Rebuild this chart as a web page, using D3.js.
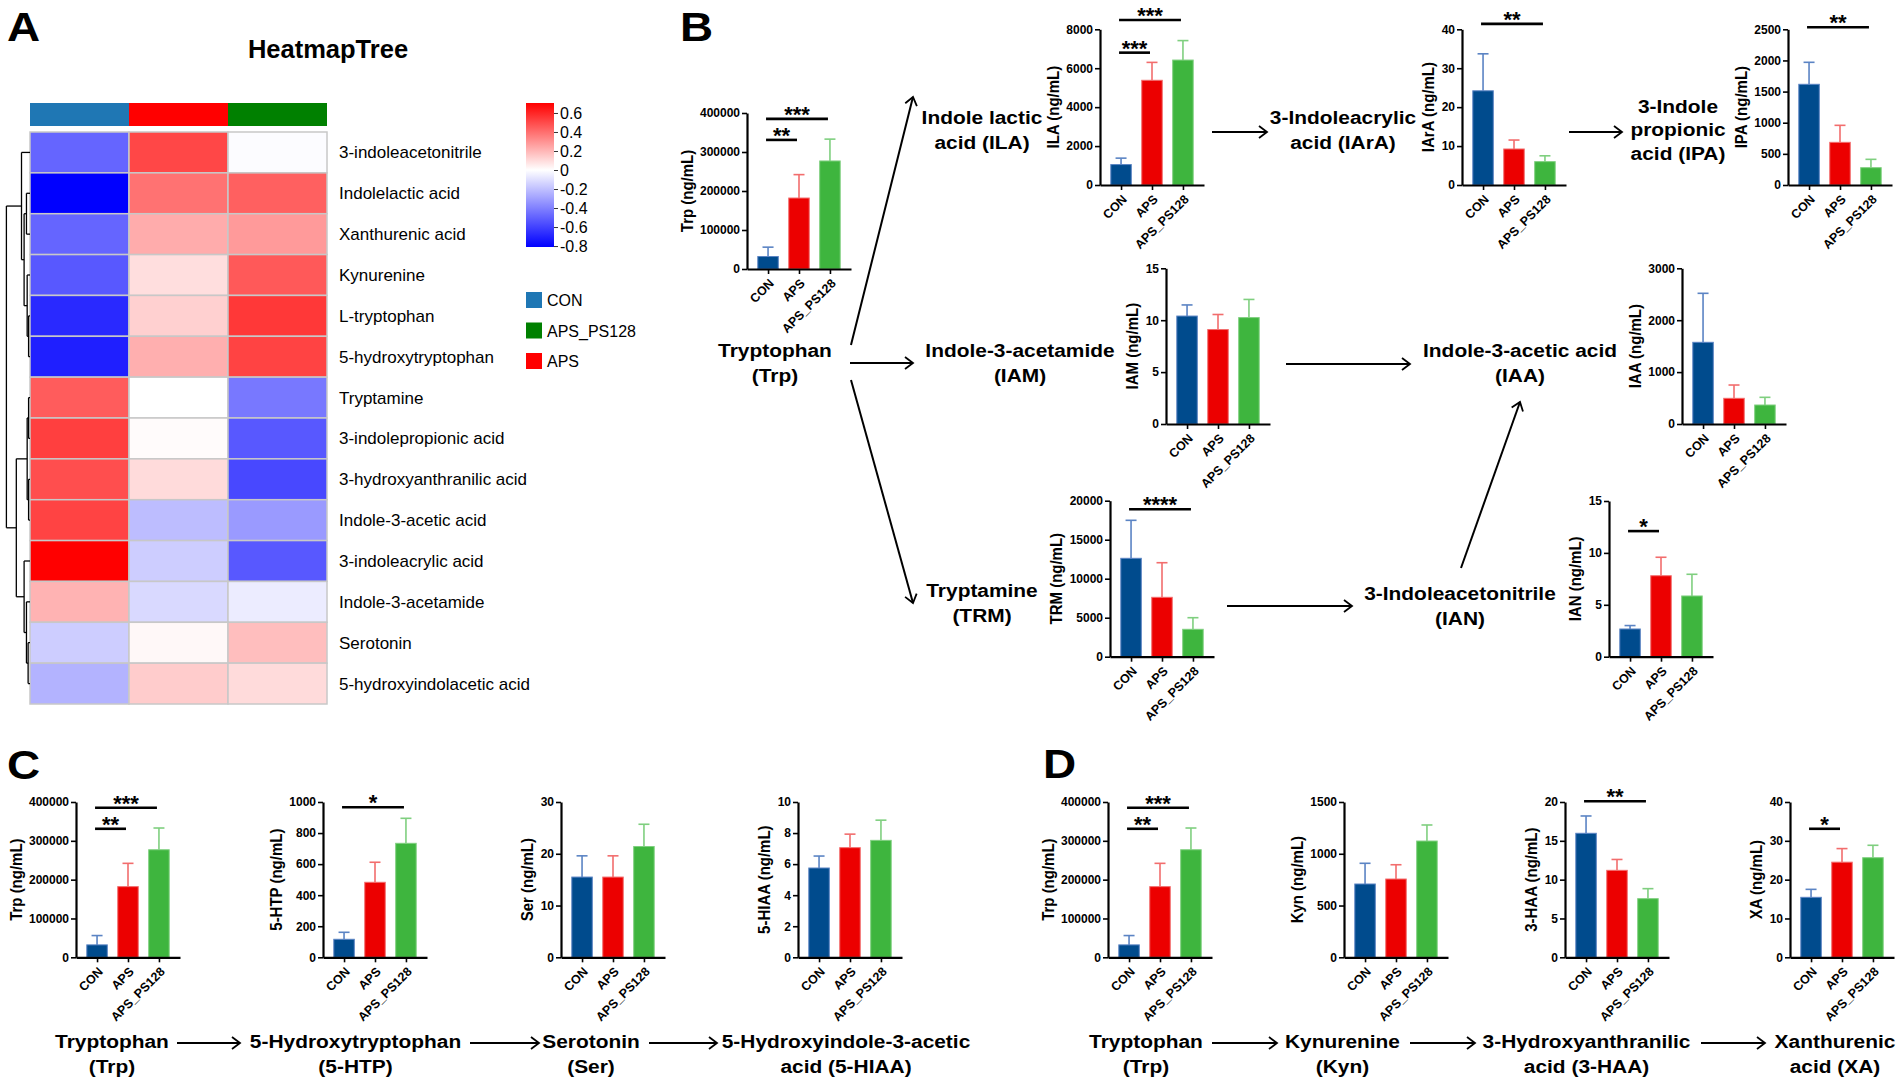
<!DOCTYPE html>
<html>
<head>
<meta charset="utf-8">
<script src="https://cdn.jsdelivr.net/npm/d3@7"></script>
<style>
  body { margin: 0; background: #fff; }
  text { font-family: "Liberation Sans", Arial, Helvetica, sans-serif; }
</style>
</head>
<body>
<svg id="fig" width="1902" height="1085"></svg>
<script>
// ---- data ----
var groups = ['CON', 'APS', 'APS_PS128'];
var barFill = ['#004b8d', '#ec0000', '#3eb53e'];
var errCol = ['#5b84c4', '#f26d6d', '#7fcf7f'];

// heatmap (z-scores)
var hmRows = ['3-indoleacetonitrile', 'Indolelactic acid', 'Xanthurenic acid', 'Kynurenine',
  'L-tryptophan', '5-hydroxytryptophan', 'Tryptamine', '3-indolepropionic acid',
  '3-hydroxyanthranilic acid', 'Indole-3-acetic acid', '3-indoleacrylic acid',
  'Indole-3-acetamide', 'Serotonin', '5-hydroxyindolacetic acid'];
var hmCon   = [-0.49, -0.81, -0.49, -0.53, -0.68, -0.71, 0.45, 0.53, 0.49, 0.52, 0.705, 0.21, -0.16, -0.24];
var hmAps   = [0.51, 0.39, 0.23, 0.09, 0.13, 0.22, 0.0, 0.01, 0.10, -0.21, -0.16, -0.12, 0.02, 0.14];
var hmPs128 = [-0.01, 0.44, 0.28, 0.46, 0.55, 0.52, -0.43, -0.53, -0.58, -0.32, -0.53, -0.06, 0.18, 0.10];
var annotCols = ['#1f77b4', '#ff0000', '#008000'];
var cbTicks = [0.6, 0.4, 0.2, 0, -0.2, -0.4, -0.6, -0.8];
var legendNames = ['CON', 'APS_PS128', 'APS'];
var legendCols = ['#1f77b4', '#008000', '#ff0000'];

// bar charts: means and SD (ng/mL)
var trpMean = [32000, 182000, 277000],  trpSd = [24000, 60000, 56000];
var ilaMean = [1050, 5380, 6420],       ilaSd = [330, 920, 1000];
var iaraMean = [24.2, 9.25, 6.0],       iaraSd = [9.5, 2.3, 1.5];
var ipaMean = [1617, 685, 278],         ipaSd = [353, 273, 134];
var iamMean = [10.4, 9.1, 10.25],       iamSd = [1.07, 1.45, 1.75];
var iaaMean = [1574, 495, 366],         iaaSd = [944, 256, 148];
var trmMean = [12615, 7615, 3513],      trmSd = [4870, 4435, 1487];
var ianMean = [2.67, 7.8, 5.85],        ianSd = [0.33, 1.78, 2.09];
var htpMean = [116, 483, 734],          htpSd = [45, 129, 161];
var serMean = [15.5, 15.5, 21.4],       serSd = [4.1, 4.1, 4.3];
var hiaaMean = [5.75, 7.06, 7.53],      hiaaSd = [0.77, 0.87, 1.3];
var kynMean = [708, 756, 1123],         kynSd = [200, 138, 155];
var haaMean = [15.97, 11.2, 7.55],      haaSd = [2.23, 1.4, 1.29];
var xaMean = [15.45, 24.5, 25.65],      xaSd = [2.05, 3.5, 3.2];

// significance bars: [from, to, stars, height in data units]
var trpSig = [[0, 1, '**', 331000], [0, 2, '***', 385000]];
var ilaSig = [[0, 1, '***', 6800], [0, 2, '***', 8480]];
var iaraSig = [[0, 2, '**', 41.4]];
var ipaSig = [[0, 2, '**', 2532]];
var trmSig = [[0, 2, '****', 18900]];
var ianSig = [[0, 1, '*', 12.1]];
var htpSig = [[0, 2, '*', 966]];
var haaSig = [[0, 2, '**', 20.1]];
var xaSig = [[0, 1, '*', 33.1]];

var svg = d3.select('#fig');

// ---- panel letters ----
[['A', 7, 41], ['B', 680, 41], ['C', 7, 779], ['D', 1043, 778]].forEach(function(p) {
  svg.append('text').attr('transform', 'translate(' + p[1] + ',' + p[2] + ') scale(1.12,1)')
    .style('font-size', '41px').style('font-weight', 'bold').text(p[0]);
});

// ---- A: heatmap ----
svg.append('text').attr('x', 328).attr('y', 58).attr('text-anchor', 'middle')
  .style('font-size', '25.5px').style('font-weight', 'bold').text('HeatmapTree');

var hx = d3.scaleBand().domain(groups).range([30, 327]);
var hy = d3.scaleBand().domain(hmRows).range([132, 704]);
var hcol = d3.scaleLinear().domain([-0.81, 0, 0.705]).range(['#0000ff', '#ffffff', '#ff0000']);
var hmVals = [hmCon, hmAps, hmPs128];

svg.selectAll('.annot').data(groups).enter().append('rect')
  .attr('x', function(d) { return hx(d); }).attr('y', 103)
  .attr('width', hx.bandwidth()).attr('height', 23)
  .attr('fill', function(d, i) { return annotCols[i]; });

var cells = [];
hmRows.forEach(function(r, i) {
  groups.forEach(function(g, j) { cells.push({row: r, col: g, v: hmVals[j][i]}); });
});
svg.selectAll('.cell').data(cells).enter().append('rect')
  .attr('x', function(d) { return hx(d.col); })
  .attr('y', function(d) { return hy(d.row); })
  .attr('width', hx.bandwidth()).attr('height', hy.bandwidth())
  .attr('fill', function(d) { return hcol(d.v); })
  .attr('stroke', '#c8c8c8').attr('stroke-width', 1.5);

svg.selectAll('.rowlab').data(hmRows).enter().append('text')
  .attr('x', 339).attr('y', function(d) { return hy(d) + hy.bandwidth() / 2 + 6; })
  .style('font-size', '17px').text(function(d) { return d; });

// dendrogram (rows), merge heights estimated
var dendro = {h: 1, c: [
  {h: 0.36, c: [0, {h: 0.25, c: [{h: 0.15, c: [1, 2]}, {h: 0.12, c: [3, {h: 0.06, c: [4, 5]}]}]}]},
  {h: 0.58, c: [
    {h: 0.12, c: [{h: 0.06, c: [6, 7]}, {h: 0.06, c: [8, 9]}]},
    {h: 0.25, c: [10, {h: 0.15, c: [11, {h: 0.08, c: [12, 13]}]}]}
  ]}
]};
var dx = d3.scaleLinear().domain([0, 1]).range([30, 6.4]);
var dg = svg.append('g').attr('stroke', '#000').attr('stroke-width', 1.3).attr('fill', 'none');
var drawNode = function(n) {
  if (typeof n === 'number') {
    return {x: dx(0), y: hy(hmRows[n]) + hy.bandwidth() / 2};
  }
  var kids = n.c.map(drawNode);
  var x = dx(n.h);
  kids.forEach(function(k) {
    dg.append('line').attr('x1', x).attr('x2', k.x).attr('y1', k.y).attr('y2', k.y);
  });
  dg.append('line').attr('x1', x).attr('x2', x).attr('y1', kids[0].y).attr('y2', kids[kids.length - 1].y);
  return {x: x, y: (kids[0].y + kids[kids.length - 1].y) / 2};
};
drawNode(dendro);

// colour bar
var grad = svg.append('defs').append('linearGradient').attr('id', 'cb')
  .attr('x1', 0).attr('y1', 1).attr('x2', 0).attr('y2', 0);
hcol.domain().forEach(function(v) {
  grad.append('stop').attr('offset', (v + 0.81) / 1.515).attr('stop-color', hcol(v));
});
svg.append('rect').attr('x', 526).attr('y', 103).attr('width', 28).attr('height', 144)
  .attr('fill', 'url(#cb)');
var cy = d3.scaleLinear().domain([-0.81, 0.705]).range([247, 103]);
var cbAxis = svg.append('g').attr('transform', 'translate(554,0)')
  .call(d3.axisRight(cy).tickValues(cbTicks).tickSize(4).tickPadding(2)
    .tickFormat(function(d) { return String(Math.round(d * 10) / 10); }));
cbAxis.select('.domain').remove();
cbAxis.selectAll('line').attr('stroke', '#333');
cbAxis.selectAll('text').style('font-size', '16px').attr('fill', '#000')
  .style('font-family', '"Liberation Sans", Arial, sans-serif');

// group legend
legendNames.forEach(function(n, i) {
  svg.append('rect').attr('x', 526).attr('y', 292 + i * 30.5).attr('width', 16).attr('height', 16)
    .attr('fill', legendCols[i]);
  svg.append('text').attr('x', 547).attr('y', 306 + i * 30.5)
    .style('font-size', '16px').text(n);
});

// ---- bar charts ----
var drawChart = function(c) {
  var g = svg.append('g');
  var x = d3.scalePoint().domain(groups).range([c.ax, c.ax + 104]).padding(0.68);
  var y = d3.scaleLinear().domain([0, c.max]).range([c.zero, c.top]);
  var bw = 20.5;

  g.selectAll('.bar').data(c.mean).enter().append('rect')
    .attr('x', function(d, i) { return x(groups[i]) - bw / 2; })
    .attr('y', function(d) { return y(d); })
    .attr('width', bw)
    .attr('height', function(d) { return y(0) - y(d); })
    .attr('fill', function(d, i) { return barFill[i]; })
    .attr('stroke', function(d, i) { return errCol[i]; })
    .attr('stroke-width', 1);

  c.mean.forEach(function(m, i) {
    var cx = x(groups[i]), yt = y(m + c.sd[i]);
    g.append('line').attr('x1', cx).attr('x2', cx).attr('y1', y(m)).attr('y2', yt)
      .attr('stroke', errCol[i]).attr('stroke-width', 1.6);
    g.append('line').attr('x1', cx - 5.5).attr('x2', cx + 5.5).attr('y1', yt).attr('y2', yt)
      .attr('stroke', errCol[i]).attr('stroke-width', 1.6);
  });

  var ya = g.append('g').attr('transform', 'translate(' + c.ax + ',0)')
    .call(d3.axisLeft(y).tickValues(d3.range(0, c.max + c.step / 2, c.step))
      .tickSize(5).tickSizeOuter(0).tickPadding(2).tickFormat(String));
  var xa = g.append('g').attr('transform', 'translate(0,' + c.zero + ')')
    .call(d3.axisBottom(x).tickSize(5).tickSizeOuter(0));
  [ya, xa].forEach(function(a) {
    a.select('.domain').attr('stroke-width', 2.2);
    a.selectAll('.tick line').attr('stroke-width', 1.6);
    a.selectAll('text').style('font-family', '"Liberation Sans", Arial, sans-serif')
      .style('font-weight', 'bold').attr('fill', '#000');
  });
  ya.selectAll('text').style('font-size', '12px');
  xa.selectAll('text').style('font-size', '12.5px')
    .attr('x', 0).attr('y', 0).attr('dy', '0.35em').attr('text-anchor', 'end')
    .attr('transform', 'translate(3,12) rotate(-45)');

  var w = d3.max(ya.selectAll('text').nodes(), function(n) { return n.getBBox().width; });
  g.append('text')
    .attr('transform', 'translate(' + (c.ax - 7 - w - 13) + ',' + (c.zero + c.top) / 2 + ') rotate(-90) scale(1,1.12)')
    .attr('text-anchor', 'middle').attr('dy', '0.35em')
    .style('font-size', '15px').style('font-weight', 'bold').text(c.title);

  (c.sig || []).forEach(function(s) {
    var x1 = x(groups[s[0]]) - 2, x2 = x(groups[s[1]]) - 2, ys = y(s[3]);
    g.append('line').attr('x1', x1).attr('x2', x2).attr('y1', ys).attr('y2', ys)
      .attr('stroke', '#000').attr('stroke-width', 2.6);
    g.append('text').attr('x', (x1 + x2) / 2).attr('y', ys + 3).attr('text-anchor', 'middle')
      .style('font-size', '22px').style('font-weight', 'bold').text(s[2]);
  });
};

var charts = [
  // B
  {ax: 747,  top: 113,   zero: 269,   max: 400000, step: 100000, mean: trpMean,  sd: trpSd,  title: 'Trp (ng/mL)',  sig: trpSig},
  {ax: 1100, top: 29.3,  zero: 185,   max: 8000,   step: 2000,   mean: ilaMean,  sd: ilaSd,  title: 'ILA (ng/mL)',  sig: ilaSig},
  {ax: 1462, top: 29.3,  zero: 185,   max: 40,     step: 10,     mean: iaraMean, sd: iaraSd, title: 'IArA (ng/mL)', sig: iaraSig},
  {ax: 1788, top: 29.3,  zero: 185,   max: 2500,   step: 500,    mean: ipaMean,  sd: ipaSd,  title: 'IPA (ng/mL)',  sig: ipaSig},
  {ax: 1166, top: 268.3, zero: 424,   max: 15,     step: 5,      mean: iamMean,  sd: iamSd,  title: 'IAM (ng/mL)'},
  {ax: 1682, top: 268.3, zero: 424,   max: 3000,   step: 1000,   mean: iaaMean,  sd: iaaSd,  title: 'IAA (ng/mL)'},
  {ax: 1110, top: 500.7, zero: 656.7, max: 20000,  step: 5000,   mean: trmMean,  sd: trmSd,  title: 'TRM (ng/mL)',  sig: trmSig},
  {ax: 1609, top: 501,   zero: 656.7, max: 15,     step: 5,      mean: ianMean,  sd: ianSd,  title: 'IAN (ng/mL)',  sig: ianSig},
  // C
  {ax: 76,   top: 802, zero: 957.3, max: 400000, step: 100000, mean: trpMean,  sd: trpSd,  title: 'Trp (ng/mL)',    sig: trpSig},
  {ax: 323,  top: 802, zero: 957.3, max: 1000,   step: 200,    mean: htpMean,  sd: htpSd,  title: '5-HTP (ng/mL)',  sig: htpSig},
  {ax: 561,  top: 802, zero: 957.3, max: 30,     step: 10,     mean: serMean,  sd: serSd,  title: 'Ser (ng/mL)'},
  {ax: 798,  top: 802, zero: 957.3, max: 10,     step: 2,      mean: hiaaMean, sd: hiaaSd, title: '5-HIAA (ng/mL)'},
  // D
  {ax: 1108, top: 802, zero: 957.3, max: 400000, step: 100000, mean: trpMean,  sd: trpSd,  title: 'Trp (ng/mL)',    sig: trpSig},
  {ax: 1344, top: 802, zero: 957.3, max: 1500,   step: 500,    mean: kynMean,  sd: kynSd,  title: 'Kyn (ng/mL)'},
  {ax: 1565, top: 802, zero: 957.3, max: 20,     step: 5,      mean: haaMean,  sd: haaSd,  title: '3-HAA (ng/mL)',  sig: haaSig},
  {ax: 1790, top: 802, zero: 957.3, max: 40,     step: 10,     mean: xaMean,   sd: xaSd,   title: 'XA (ng/mL)',     sig: xaSig}
];
charts.forEach(drawChart);

// ---- pathway labels ----
var label = function(x, y, lines, gap) {
  var t = svg.append('g').attr('transform', 'translate(' + x + ',' + y + ') scale(1.1,1)');
  lines.forEach(function(s, i) {
    t.append('text').attr('x', 0).attr('y', i * gap).attr('text-anchor', 'middle')
      .style('font-size', '19px').style('font-weight', 'bold').text(s);
  });
};
label(775, 357, ['Tryptophan', '(Trp)'], 25);
label(982, 124, ['Indole lactic', 'acid (ILA)'], 25);
label(1343, 124, ['3-Indoleacrylic', 'acid (IArA)'], 25);
label(1678, 113, ['3-Indole', 'propionic', 'acid (IPA)'], 23.5);
label(1020, 357, ['Indole-3-acetamide', '(IAM)'], 25);
label(1520, 357, ['Indole-3-acetic acid', '(IAA)'], 25);
label(982, 597, ['Tryptamine', '(TRM)'], 25);
label(1460, 600, ['3-Indoleacetonitrile', '(IAN)'], 25);
label(112, 1048, ['Tryptophan', '(Trp)'], 25);
label(355.5, 1048, ['5-Hydroxytryptophan', '(5-HTP)'], 25);
label(591, 1048, ['Serotonin', '(Ser)'], 25);
label(846, 1048, ['5-Hydroxyindole-3-acetic', 'acid (5-HIAA)'], 25);
label(1146, 1048, ['Tryptophan', '(Trp)'], 25);
label(1342.5, 1048, ['Kynurenine', '(Kyn)'], 25);
label(1586.5, 1048, ['3-Hydroxyanthranilic', 'acid (3-HAA)'], 25);
label(1835, 1048, ['Xanthurenic', 'acid (XA)'], 25);

// ---- arrows ----
svg.select('defs').append('marker').attr('id', 'arr')
  .attr('markerUnits', 'userSpaceOnUse').attr('markerWidth', 12).attr('markerHeight', 14)
  .attr('refX', 9).attr('refY', 7).attr('orient', 'auto')
  .append('path').attr('d', 'M1,1 L9,7 L1,13').attr('fill', 'none')
  .attr('stroke', '#000').attr('stroke-width', 1.8);

var arrows = [
  [851, 345, 913, 97], [850, 363, 913, 363], [851, 380, 913, 603],
  [1212, 132, 1267, 132], [1569, 132, 1622, 132], [1286, 364, 1410, 364],
  [1227, 606, 1352, 606], [1461, 568, 1520, 402],
  [177, 1043, 240, 1043], [470, 1043, 539, 1043], [649, 1043, 717, 1043],
  [1212, 1043, 1277, 1043], [1410, 1043, 1475, 1043], [1701, 1043, 1765, 1043]
];
svg.selectAll('.arrow').data(arrows).enter().append('line')
  .attr('x1', function(d) { return d[0]; }).attr('y1', function(d) { return d[1]; })
  .attr('x2', function(d) { return d[2]; }).attr('y2', function(d) { return d[3]; })
  .attr('stroke', '#000').attr('stroke-width', 2).attr('marker-end', 'url(#arr)');
</script>
</body>
</html>
